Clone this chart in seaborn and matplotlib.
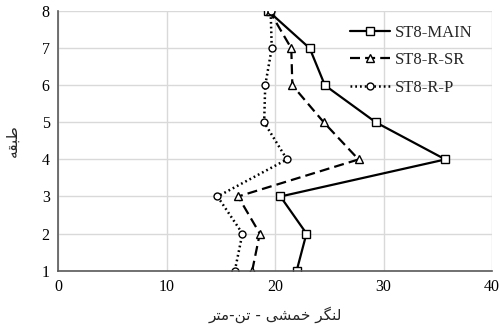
import matplotlib
matplotlib.use("Agg")
import matplotlib.pyplot as plt
import seaborn as sns
import pandas as pd

# Story levels and bending moment (ton-m) for each model
stories = [1, 2, 3, 4, 5, 6, 7, 8]
main_moment = [22.0, 22.9, 20.5, 35.7, 29.3, 24.6, 23.2, 19.4]
sr_moment = [17.9, 18.6, 16.6, 27.7, 24.5, 21.6, 21.5, 19.5]
p_moment = [16.3, 17.0, 14.7, 21.1, 19.0, 19.1, 19.7, 19.6]
series_names = ["ST8-MAIN", "ST8-R-SR", "ST8-R-P"]

# Persian labels, written in presentation forms in visual (right-to-left) order
ylabel_text = "\uFEEA\uFED8\uFE92\uFEC3"                       # طبقه
xlabel_text = ("\uFEAE\uFE98\uFEE3-\uFEE6\uFE97 - "
               "\uFBFD\uFEB8\uFEE4\uFEA7 \uFEAE\uFB95\uFEE8\uFEDF")  # لنگر خمشی - تن-متر

sns.set_theme(style="whitegrid")
plt.rcParams["font.family"] = ["Liberation Serif", "DejaVu Sans"]

fig = plt.figure(figsize=(5.0, 3.3), dpi=100)
ax = fig.add_axes([0.116, 0.180, 0.868, 0.786])

styles = [
    dict(marker="s", markersize=5.2, linestyle="-", linewidth=1.6),
    dict(marker="^", markersize=5.5, linestyle=(0, (4.5, 2.3)), linewidth=1.6),
    dict(marker="o", markersize=5.0, linestyle=(0, (0.7, 1.2)), linewidth=1.8),
]

for name, vals, st in zip(series_names, [main_moment, sr_moment, p_moment], styles):
    df = pd.DataFrame({"moment": vals, "story": stories})
    sns.lineplot(data=df, x="moment", y="story", sort=False, estimator=None,
                 ax=ax, color="black", markerfacecolor="white",
                 markeredgecolor="black", markeredgewidth=1.0,
                 label=name, **st)

ax.set_xlim(0, 40)
ax.set_ylim(1, 8)
ax.set_xticks([0, 10, 20, 30, 40])
ax.set_yticks(stories)
ax.grid(True, color="#d9d9d9", linewidth=1.0)
ax.set_axisbelow(True)
for side in ["top", "right"]:
    ax.spines[side].set_visible(False)
for side in ["left", "bottom"]:
    ax.spines[side].set_color("#595959")
    ax.spines[side].set_linewidth(1.2)
ax.tick_params(axis="both", length=0, labelsize=11.5, colors="black", pad=6)

ax.set_xlabel(xlabel_text, fontsize=11, family=["DejaVu Sans"], labelpad=8)
ax.set_ylabel(ylabel_text, fontsize=11, family=["DejaVu Sans"], labelpad=16)

leg = ax.legend(loc="upper left", bbox_to_anchor=(0.673, 0.947), frameon=False,
                fontsize=12, handlelength=2.4, handletextpad=0.3,
                labelspacing=0.68, borderaxespad=0.0, borderpad=0.0)

fig.savefig("out.png", dpi=100, facecolor="white")
